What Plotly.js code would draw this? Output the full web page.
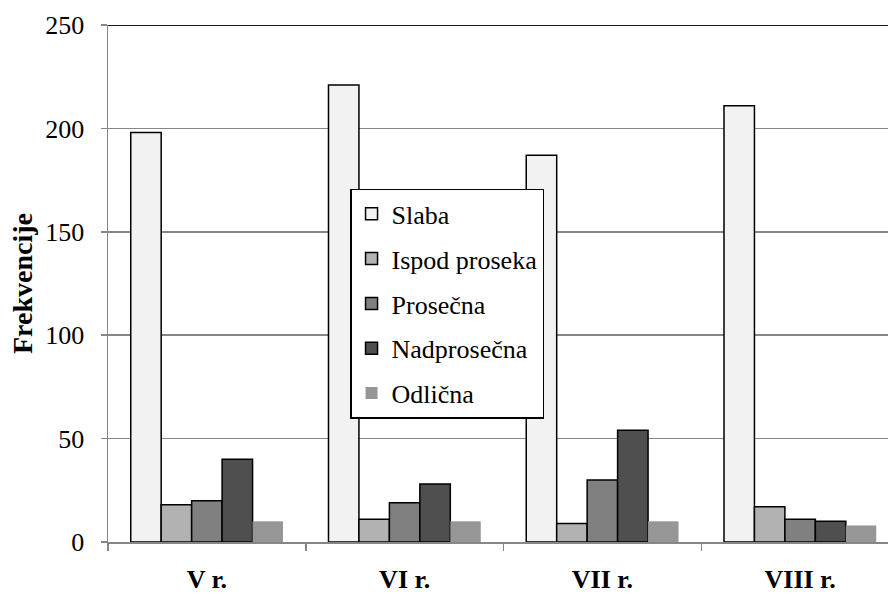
<!DOCTYPE html>
<html>
<head>
<meta charset="utf-8">
<script src="https://cdn.plot.ly/plotly-3.0.1.min.js"></script>
<style>html,body{margin:0;padding:0;background:#fff;overflow:hidden;}#chart{width:899px;height:595px;}</style>
</head>
<body>
<div id="chart"></div>
<script>
const categories = ["V r.", "VI r.", "VII r.", "VIII r."];
const seriesNames = ["Slaba", "Ispod proseka", "Prosečna", "Nadprosečna", "Odlična"];
const slaba = [198, 221, 187, 211];
const ispodProseka = [18, 11, 9, 17];
const prosecna = [20, 19, 30, 11];
const nadprosecna = [40, 28, 54, 10];
const odlicna = [10, 10, 10, 8];
const yTicks = [0, 50, 100, 150, 200, 250];

const values = [slaba, ispodProseka, prosecna, nadprosecna, odlicna];
const colors = ["#f2f2f2", "#b2b2b2", "#808080", "#4f4f4f", "#969696"];
const lineW = [1.5, 1.5, 1.5, 1.5, 0];
const FONT = "Liberation Serif";

const traces = values.map((v, i) => ({
  type: "bar",
  name: seriesNames[i],
  x: categories,
  y: v,
  legendgroup: "g" + i,
  marker: {color: colors[i], line: {color: "#000", width: lineW[i]}},
  hoverinfo: "skip"
}));

const layout = {
  width: 899, height: 595,
  margin: {l: 108, r: 0, t: 25, b: 52.5},
  paper_bgcolor: "#fff", plot_bgcolor: "#fff",
  font: {family: FONT, color: "#000", size: 26},
  barmode: "group",
  bargap: 0.23,
  bargroupgap: 0,
  showlegend: true,
  legend: {
    x: 0.306, y: 0.683, xanchor: "left", yanchor: "top",
    bgcolor: "#fff", bordercolor: "#000", borderwidth: 1.5,
    font: {size: 26, family: FONT},
    traceorder: "grouped", tracegroupgap: 8,
    itemwidth: 30
  },
  xaxis: {
    type: "category",
    showline: true, linecolor: "#868686", linewidth: 1.5,
    ticks: "outside", ticklen: 7, tickcolor: "#868686", tickwidth: 1.5,
    tickson: "boundaries",
    ticklabelstandoff: 13,
    tickfont: {size: 26, family: FONT, weight: "bold"},
    showgrid: false,
    zeroline: false
  },
  yaxis: {
    range: [0, 250],
    tickvals: yTicks,
    ticktext: yTicks.map(String),
    showline: true, linecolor: "#868686", linewidth: 1.5,
    ticks: "outside", ticklen: 6, tickcolor: "#868686", tickwidth: 1.5,
    ticklabelstandoff: 11,
    showgrid: true, gridcolor: "#868686", gridwidth: 1.5,
    zeroline: false,
    tickfont: {size: 26, family: FONT},
    title: {text: "<b>Frekvencije</b>", font: {size: 28, family: FONT}, standoff: 4}
  },
  shapes: [{
    type: "line", xref: "paper", yref: "y",
    x0: 0, x1: 1, y0: 250, y1: 250,
    line: {color: "#1a1a1a", width: 2}, layer: "above"
  }]
};

Plotly.newPlot("chart", traces, layout, {staticPlot: true, displayModeBar: false});
</script>
</body>
</html>
